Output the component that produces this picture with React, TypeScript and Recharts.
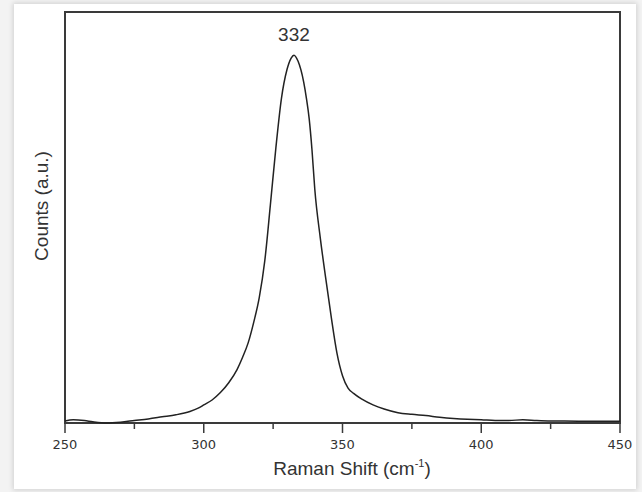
import React from 'react';
import { LineChart, Line, XAxis, YAxis, ReferenceDot, ReferenceArea, Label } from 'recharts';

// Raman shift (cm-1) and counts (a.u., 0-100 scale)
const shift = [
  250, 253, 257, 260, 265, 270, 275, 280, 285, 290, 295, 298, 300, 303, 306, 309, 312, 314, 316, 318,
  320, 322, 324, 326, 328, 330, 331.5, 332.5, 334, 336, 337, 338, 339, 340, 342, 344, 346, 348, 350,
  352, 354, 357, 361, 365, 370, 375, 380, 385, 390, 395, 400, 405, 410, 415, 420, 425, 430, 440, 450,
];
const counts = [
  0.5, 0.8, 0.6, 0.3, 0, 0.2, 0.6, 1.0, 1.5, 2.0, 2.8, 3.6, 4.4, 5.6, 7.4, 9.8, 13.0, 16.0, 19.5, 24.5,
  30.5, 39.5, 53, 67, 79, 86, 88.8, 89.5, 88, 83, 79, 74, 66.5, 57, 45, 35, 25.5, 17, 11.5,
  8.5, 7.2, 5.8, 4.4, 3.4, 2.5, 2.1, 1.8, 1.4, 1.1, 0.9, 0.8, 0.6, 0.6, 0.8, 0.6, 0.5, 0.5, 0.4, 0.4,
];
const xTicks = [250, 275, 300, 325, 350, 375, 400, 425, 450];
const majorTicks = [250, 300, 350, 400, 450];
const peakShift = 332;
const peakLabel = '332';

const data = shift.map((x, i) => ({ x, y: counts[i] }));
const peakCount = Math.max(...counts);

const ink = '#333';
const frame = '#3a3a3a';

const XTick = (props: any) => {
  const { x, y, payload } = props;
  const major = majorTicks.includes(payload.value);
  return (
    <g>
      <line x1={x} x2={x} y1={y} y2={y + (major ? 10 : 6)} stroke={frame} strokeWidth={1.5} />
      {major && (
        <text x={x} y={y + 26} textAnchor="middle" fontSize={13} fontFamily="DejaVu Sans" fill={ink}>
          {payload.value}
        </text>
      )}
    </g>
  );
};

const XTitle = () => (
  <text x={352} y={475} textAnchor="middle" fontSize={19} fontFamily="Liberation Sans" fill={ink}>
    Raman Shift (cm
    <tspan fontSize={11} dy={-8}>-1</tspan>
    <tspan dy={8}>)</tspan>
  </text>
);

const YTitle = () => (
  <text
    x={41}
    y={206}
    transform="rotate(-90 41 206)"
    textAnchor="middle"
    dominantBaseline="central"
    fontSize={19}
    fontFamily="Liberation Sans"
    fill={ink}
  >
    Counts (a.u.)
  </text>
);

export default function App() {
  return (
    <div style={{ position: 'absolute', left: 0, top: 0, width: 642, height: 492, background: '#f3f3f3' }}>
      <div
        style={{
          position: 'absolute',
          left: 14,
          top: 4,
          width: 622,
          height: 485,
          background: '#fff',
          boxShadow: '0 0 5px 1px rgba(0,0,0,0.15)',
        }}
      />
      <div style={{ position: 'absolute', left: 0, top: 0 }}>
        <LineChart width={642} height={492} data={data} margin={{ top: 12, right: 22, bottom: 0, left: 64 }}>
          <XAxis
            dataKey="x"
            type="number"
            domain={[250, 450]}
            ticks={xTicks}
            height={69}
            tickSize={0}
            tickMargin={0}
            tickLine={false}
            tick={XTick}
            interval={0}
            axisLine={false}
          >
            <Label content={XTitle} />
          </XAxis>
          <YAxis
            type="number"
            domain={[0, 100]}
            width={1}
            tick={false}
            tickLine={false}
            axisLine={false}
          >
            <Label content={YTitle} />
          </YAxis>
          <ReferenceArea
            x1={250}
            x2={450}
            y1={0}
            y2={100}
            fill="none"
            stroke={frame}
            strokeWidth={2}
          />
          <Line
            dataKey="y"
            type="monotone"
            stroke="#222"
            strokeWidth={1.5}
            dot={false}
            isAnimationActive={false}
          />
          <ReferenceDot
            x={peakShift + 0.5}
            y={peakCount}
            r={0}
            stroke="none"
            label={{ value: peakLabel, position: 'top', offset: 14, fontSize: 19, fontFamily: 'Liberation Sans', fill: ink }}
          />
        </LineChart>
      </div>
    </div>
  );
}
